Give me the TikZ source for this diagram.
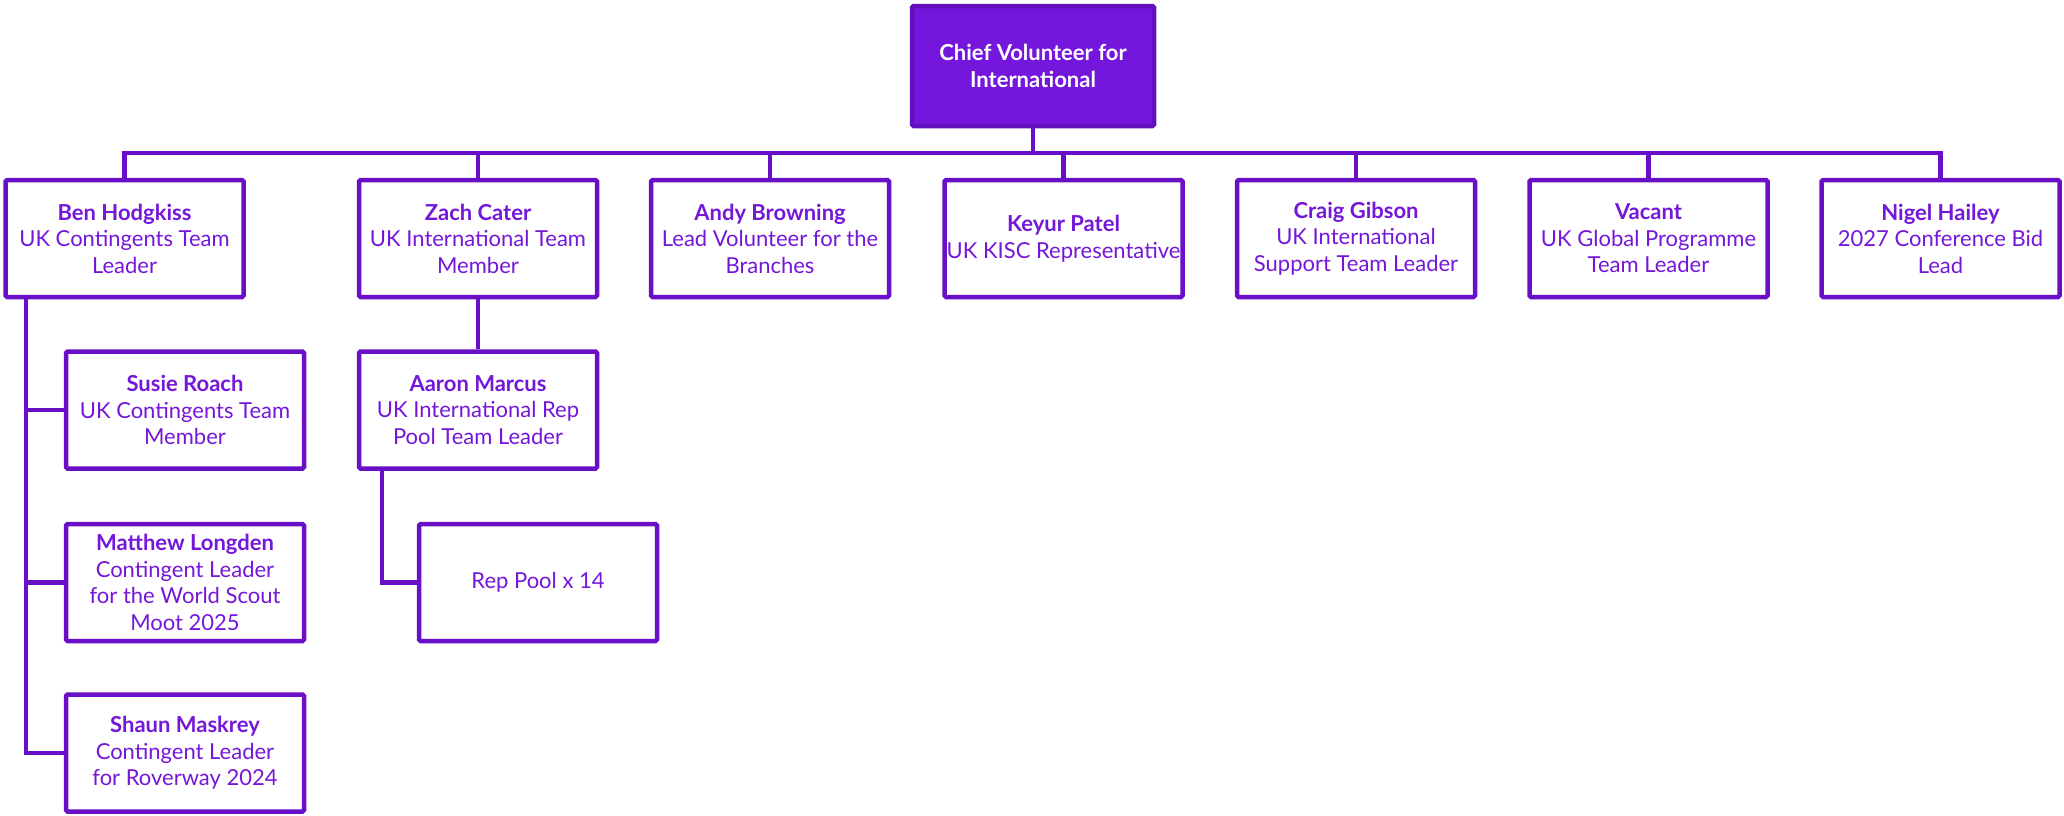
\documentclass[tikz,border=0pt]{standalone}
\usepackage{fontspec}
\setmainfont{Lato}
\definecolor{bord}{HTML}{6A0FC8}
\definecolor{txt}{HTML}{7417D9}
\definecolor{rootfill}{HTML}{7416DB}
\definecolor{rootbord}{HTML}{6210BE}
\tikzset{
  box/.style={draw=bord, line width=4.5pt, rectangle, rounded corners=1.5pt, fill=white,
    minimum width=238pt, minimum height=117pt, inner sep=0pt, align=center,
    text=txt, font=\fontsize{22}{26.5}\selectfont},
  rootbox/.style={box, fill=rootfill, draw=rootbord, text=white, minimum width=242pt, minimum height=120pt, font=\fontsize{22}{26.5}\selectfont\bfseries},
  conn/.style={draw=bord, line width=4.5pt}
}
\begin{document}
\begin{tikzpicture}[x=1pt,y=-1pt]
\useasboundingbox (0,0) rectangle (2064,815);
\node[rootbox] (root) at (1033,66) {Chief Volunteer for\\International};
\node[box] (ben) at (124.5,238.5) {\textbf{Ben Hodgkiss}\\UK Contingents Team\\Leader};
\node[box] (zach) at (478,238.5) {\textbf{Zach Cater}\\UK International Team\\Member};
\node[box] (andy) at (770,238.5) {\textbf{Andy Browning}\\Lead Volunteer for the\\Branches};
\node[box] (keyur) at (1063.5,238.5) {\textbf{Keyur Patel}\\UK KISC Representative};
\node[box] (craig) at (1356,238.5) {\textbf{Craig Gibson}\\UK International\\Support Team Leader};
\node[box] (vacant) at (1648.5,238.5) {\textbf{Vacant}\\UK Global Programme\\Team Leader};
\node[box] (nigel) at (1940.5,238.5) {\textbf{Nigel Hailey}\\2027 Conference Bid\\Lead};
\node[box] (susie) at (185,410) {\textbf{Susie Roach}\\UK Contingents Team\\Member};
\node[box] (matt) at (185,582.5) {\textbf{Matthew Longden}\\Contingent Leader\\for the World Scout\\Moot 2025};
\node[box] (shaun) at (185,753) {\textbf{Shaun Maskrey}\\Contingent Leader\\for Roverway 2024};
\node[box] (aaron) at (478,410) {\textbf{Aaron Marcus}\\UK International Rep\\Pool Team Leader};
\node[box] (rep) at (538,582.5) {Rep Pool x 14};
% connectors
\coordinate (bus) at (1033,153);
\draw[conn] (root.south) -- (bus);
\draw[conn] (ben.north) -- (ben.north |- bus) -- (nigel.north |- bus) -- (nigel.north);
\foreach \n in {zach,andy,keyur,craig,vacant}{
  \draw[conn] (\n.north) -- (\n.north |- bus);
}
\coordinate (bl) at (26,299);
\draw[conn] (bl) |- (susie.west);
\draw[conn] (bl) |- (matt.west);
\draw[conn] (bl) |- (shaun.west);
\draw[conn] (zach.south) -- (aaron.north);
\coordinate (al) at (382,470);
\draw[conn] (al) |- (rep.west);
\end{tikzpicture}
\end{document}
